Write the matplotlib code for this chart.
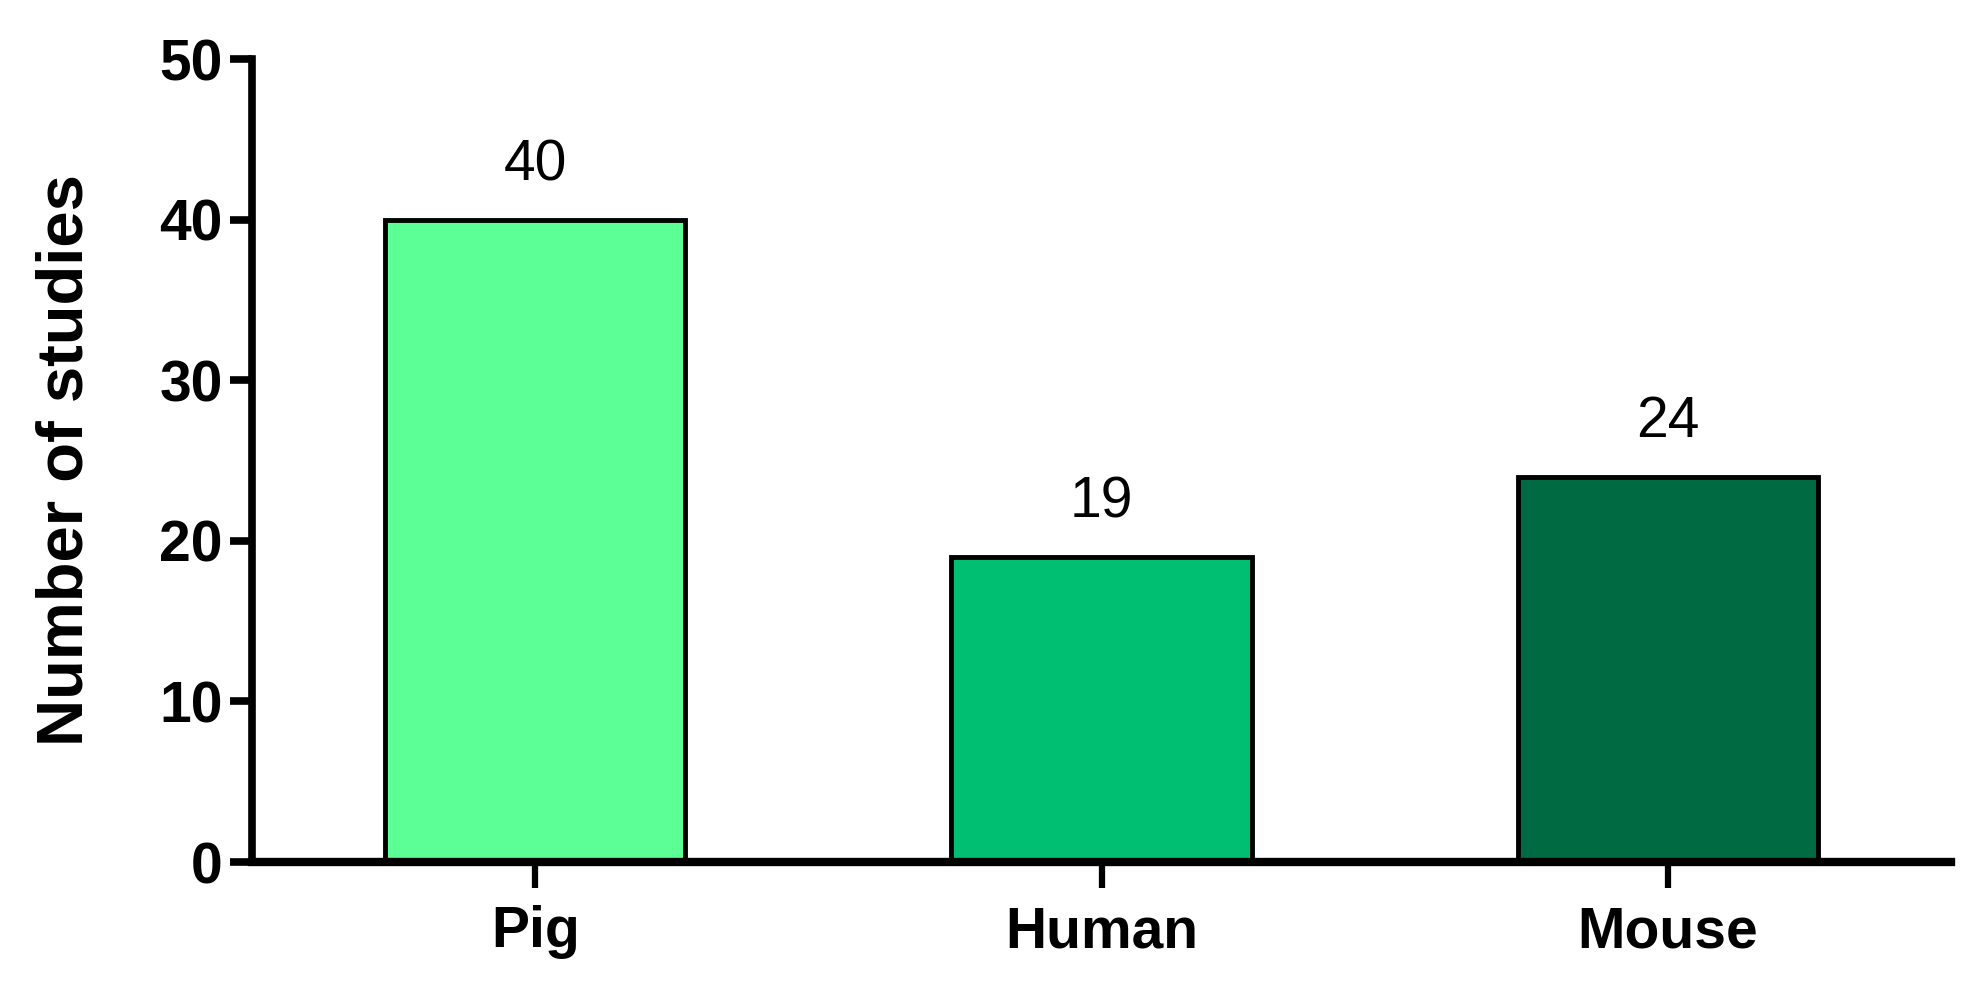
import matplotlib.pyplot as plt

# data
species = ['Pig', 'Human', 'Mouse']
n_studies = [40, 19, 24]
bar_colors = ['#5CFF96', '#00BF73', '#006B43']
y_ticks = [0, 10, 20, 30, 40, 50]

plt.rcParams['font.family'] = ['Liberation Sans', 'DejaVu Sans']

fig = plt.figure(figsize=(19.8, 9.89), dpi=100)
ax = fig.add_axes([0.1273, 0.1284, 0.8581, 0.8119])

x = list(range(len(species)))
ax.bar(x, n_studies, width=0.53, color=bar_colors, edgecolor='black', linewidth=3.5, zorder=2)

# value labels above bars
for i, v in zip(x, n_studies):
    ax.text(i, v + 3.4, str(v), ha='center', va='center', fontsize=41)

ax.set_xlim(-0.5, 2.5)
ax.set_ylim(0, 50)
ax.set_xticks(x)
ax.set_xticklabels(species, fontsize=41, fontweight='bold')
ax.set_yticks(y_ticks)
ax.set_yticklabels([str(t) for t in y_ticks], fontsize=41, fontweight='bold')
ax.set_ylabel('Number of studies', fontsize=47, fontweight='bold')
ax.yaxis.set_label_coords(-0.092, 0.5)

for s in ['top', 'right']:
    ax.spines[s].set_visible(False)
ax.spines['left'].set_linewidth(5.5)
ax.spines['bottom'].set_linewidth(6)
ax.tick_params(axis='y', length=16, width=5.5, pad=5)
ax.tick_params(axis='x', length=19, width=4.5, pad=12)

fig.savefig('out.png', dpi=100)
